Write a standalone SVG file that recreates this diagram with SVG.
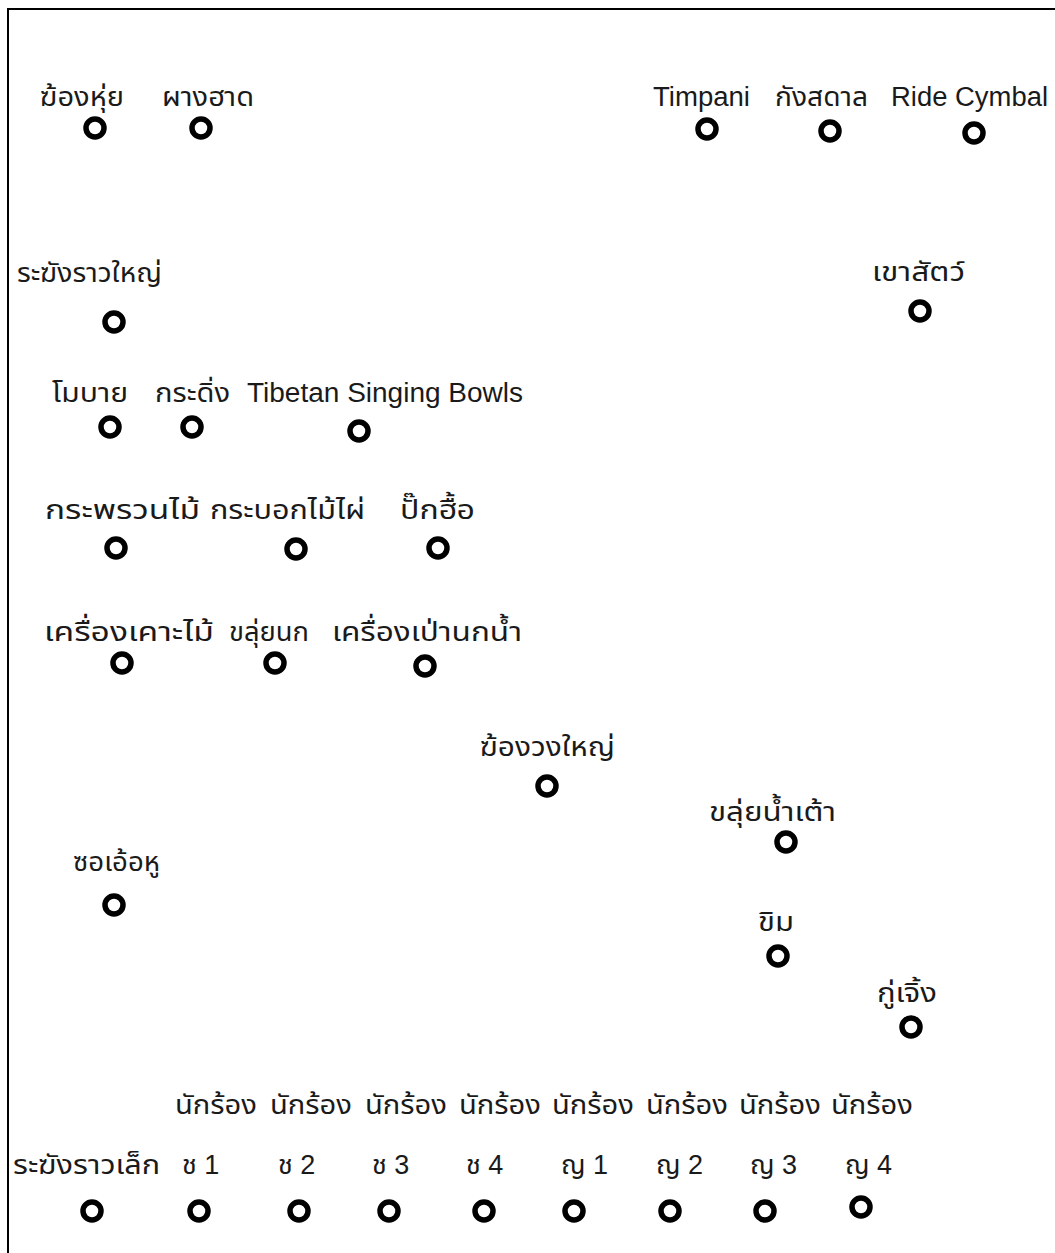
<svg xmlns="http://www.w3.org/2000/svg" width="1055" height="1253" viewBox="0 0 1055 1253">
<style>
text{font-family:"Liberation Sans","Noto Sans Thai","Noto Sans",sans-serif;font-size:27px;fill:#1a1a1a}
.p{fill:none;stroke:#000;stroke-width:5.5}
</style>
<rect width="1055" height="1253" fill="#fff"/>
<rect x="8" y="9" width="1100" height="1300" fill="none" stroke="#000" stroke-width="2"/>
<g id="n1"><text x="40" y="106" textLength="84" lengthAdjust="spacingAndGlyphs">ฆ้องหุ่ย</text><circle class="p" cx="95" cy="128" r="9"/></g>
<g id="n2"><text x="162" y="106" textLength="92" lengthAdjust="spacingAndGlyphs">ผางฮาด</text><circle class="p" cx="201" cy="128" r="9"/></g>
<g id="n3"><text x="653" y="106" textLength="97" lengthAdjust="spacingAndGlyphs">Timpani</text><circle class="p" cx="707" cy="129" r="9"/></g>
<g id="n4"><text x="775" y="106" textLength="93" lengthAdjust="spacingAndGlyphs">กังสดาล</text><circle class="p" cx="830" cy="131" r="9"/></g>
<g id="n5"><text x="891" y="106" textLength="157" lengthAdjust="spacingAndGlyphs">Ride Cymbal</text><circle class="p" cx="974" cy="133" r="9"/></g>
<g id="n6"><text x="17" y="282" textLength="145" lengthAdjust="spacingAndGlyphs">ระฆังราวใหญ่</text><circle class="p" cx="114" cy="322" r="9"/></g>
<g id="n7"><text x="872" y="281" textLength="93" lengthAdjust="spacingAndGlyphs">เขาสัตว์</text><circle class="p" cx="920" cy="311" r="9"/></g>
<g id="n8"><text x="52" y="402" textLength="76" lengthAdjust="spacingAndGlyphs">โมบาย</text><circle class="p" cx="110" cy="427" r="9"/></g>
<g id="n9"><text x="155" y="402" textLength="75" lengthAdjust="spacingAndGlyphs">กระดิ่ง</text><circle class="p" cx="192" cy="427" r="9"/></g>
<g id="n10"><text x="247" y="402" textLength="276" lengthAdjust="spacingAndGlyphs">Tibetan Singing Bowls</text><circle class="p" cx="359" cy="431" r="9"/></g>
<g id="n11"><text x="45" y="519" textLength="155" lengthAdjust="spacingAndGlyphs">กระพรวนไม้</text><circle class="p" cx="116" cy="548" r="9"/></g>
<g id="n12"><text x="210" y="519" textLength="155" lengthAdjust="spacingAndGlyphs">กระบอกไม้ไผ่</text><circle class="p" cx="296" cy="549" r="9"/></g>
<g id="n13"><text x="400" y="519" textLength="75" lengthAdjust="spacingAndGlyphs">ปั๊กฮื้อ</text><circle class="p" cx="438" cy="548" r="9"/></g>
<g id="n14"><text x="44" y="641" textLength="170" lengthAdjust="spacingAndGlyphs">เครื่องเคาะไม้</text><circle class="p" cx="122" cy="663" r="9"/></g>
<g id="n15"><text x="229" y="641" textLength="80" lengthAdjust="spacingAndGlyphs">ขลุ่ยนก</text><circle class="p" cx="275" cy="663" r="9"/></g>
<g id="n16"><text x="332" y="641" textLength="190" lengthAdjust="spacingAndGlyphs">เครื่องเป่านกน้ำ</text><circle class="p" cx="425" cy="666" r="9"/></g>
<g id="n17"><text x="480" y="756" textLength="135" lengthAdjust="spacingAndGlyphs">ฆ้องวงใหญ่</text><circle class="p" cx="547" cy="786" r="9"/></g>
<g id="n18"><text x="709" y="821" textLength="127" lengthAdjust="spacingAndGlyphs">ขลุ่ยน้ำเต้า</text><circle class="p" cx="786" cy="842" r="9"/></g>
<g id="n19"><text x="73" y="871" textLength="87" lengthAdjust="spacingAndGlyphs">ซอเอ้อหู</text><circle class="p" cx="114" cy="905" r="9"/></g>
<g id="n20"><text x="758" y="931" textLength="36" lengthAdjust="spacingAndGlyphs">ขิม</text><circle class="p" cx="778" cy="956" r="9"/></g>
<g id="n21"><text x="877" y="1002" textLength="60" lengthAdjust="spacingAndGlyphs">กู่เจิ้ง</text><circle class="p" cx="911" cy="1027" r="9"/></g>
<g id="n22"><text x="13" y="1174" textLength="147" lengthAdjust="spacingAndGlyphs">ระฆังราวเล็ก</text><circle class="p" cx="92" cy="1211" r="9"/></g>
<g id="n23"><text x="175" y="1114" textLength="82" lengthAdjust="spacingAndGlyphs">นักร้อง</text><text x="182" y="1174">ช 1</text><circle class="p" cx="199" cy="1211" r="9"/></g>
<g id="n24"><text x="270" y="1114" textLength="82" lengthAdjust="spacingAndGlyphs">นักร้อง</text><text x="278" y="1174">ช 2</text><circle class="p" cx="299" cy="1211" r="9"/></g>
<g id="n25"><text x="365" y="1114" textLength="82" lengthAdjust="spacingAndGlyphs">นักร้อง</text><text x="372" y="1174">ช 3</text><circle class="p" cx="389" cy="1211" r="9"/></g>
<g id="n26"><text x="459" y="1114" textLength="82" lengthAdjust="spacingAndGlyphs">นักร้อง</text><text x="466" y="1174">ช 4</text><circle class="p" cx="484" cy="1211" r="9"/></g>
<g id="n27"><text x="552" y="1114" textLength="82" lengthAdjust="spacingAndGlyphs">นักร้อง</text><text x="561" y="1174">ญ 1</text><circle class="p" cx="574" cy="1211" r="9"/></g>
<g id="n28"><text x="646" y="1114" textLength="82" lengthAdjust="spacingAndGlyphs">นักร้อง</text><text x="656" y="1174">ญ 2</text><circle class="p" cx="670" cy="1211" r="9"/></g>
<g id="n29"><text x="739" y="1114" textLength="82" lengthAdjust="spacingAndGlyphs">นักร้อง</text><text x="750" y="1174">ญ 3</text><circle class="p" cx="765" cy="1211" r="9"/></g>
<g id="n30"><text x="831" y="1114" textLength="82" lengthAdjust="spacingAndGlyphs">นักร้อง</text><text x="845" y="1174">ญ 4</text><circle class="p" cx="861" cy="1207" r="9"/></g>
<g id="connectors"></g>
</svg>
